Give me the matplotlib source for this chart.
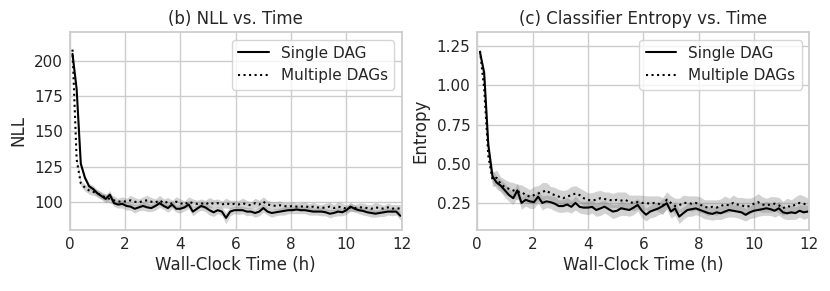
import numpy as np
import seaborn as sns
from matplotlib import pyplot as plt

# time stamps (h), shared by all runs
hours = np.round(0.1 + 0.15 * np.arange(80), 2)

nll_single = [205, 180, 127, 117, 111, 109, 106, 104, 102, 105,
              99, 98, 98.5, 97, 96.5, 95, 96, 97, 96, 95.5,
              97, 99, 97, 95.5, 98, 95, 95, 96, 98, 93,
              95, 97, 96, 94, 92.5, 94, 93, 88.5, 93, 94,
              94, 94, 93, 93, 92, 93, 95.5, 93, 92, 92.5,
              93, 93.5, 94, 94, 94.5, 94, 94, 93.5, 93, 93,
              93, 92.5, 91.5, 92, 93, 92.5, 94, 96.5, 95, 94,
              93.5, 92.5, 92, 91.5, 92, 92.5, 93, 93, 93, 90]
nll_single_err = [1, 2, 2, 2, 2, 2.5, 2.5, 2.5, 3, 3,
                  2.5, 2.5, 3, 3, 2.5, 3, 2.5, 3, 3, 2.5,
                  3, 3, 2.5, 3, 3, 2.5, 3, 2.5, 3, 3,
                  2.5, 3, 3, 3.5, 3, 2.5, 3, 4, 3, 2.5,
                  3, 2.5, 3, 2.5, 3, 3, 3, 2.5, 3, 2.5,
                  2.5, 3, 2.5, 2.5, 3, 2.5, 2.5, 3, 2.5, 2.5,
                  3, 2.5, 3, 2.5, 3, 2.5, 3, 3, 2.5, 2.5,
                  3, 2.5, 3, 2.5, 2.5, 3, 2.5, 3, 2.5, 3]
nll_multi = [208, 130, 113, 110, 108, 107, 106, 104.5, 103, 102,
             101, 100, 100.5, 100, 101, 100, 99.5, 100.5, 101, 100,
             99.5, 101, 99, 100, 98.5, 100, 99, 98, 100, 99,
             98.5, 99, 98, 99.5, 98.5, 99, 98, 99, 98, 98.5,
             98, 99, 98, 97.5, 99, 98, 100, 98, 97.5, 97,
             97.5, 97, 96.5, 97, 96.5, 96.5, 97, 96, 96.5, 96,
             95.5, 96, 96.5, 95.5, 96.5, 96, 95, 96, 95.5, 96,
             96, 95.5, 95, 96, 95.5, 95, 96, 95, 95.5, 95]
nll_multi_err = [1, 2, 2, 2.5, 2.5, 2.5, 2.5, 2.5, 2.5, 3,
                 3, 2.5, 3, 2.5, 3.5, 3, 2.5, 3, 3.5, 3,
                 2.5, 3.5, 3, 3, 2.5, 3.5, 3, 2.5, 3.5, 3,
                 2.5, 3, 3, 3.5, 3, 3, 2.5, 3.5, 3, 2.5,
                 3, 3.5, 3, 2.5, 3.5, 3, 3.5, 3, 2.5, 3,
                 3, 2.5, 3, 3, 2.5, 3, 3, 2.5, 3, 2.5,
                 2.5, 3, 3, 2.5, 3.5, 3, 2.5, 3, 2.5, 3,
                 3, 2.5, 3, 3.5, 3, 2.5, 3, 3, 2.5, 3]

ent_single = [1.21, 1.08, 0.62, 0.42, 0.38, 0.36, 0.33, 0.30, 0.28, 0.33,
              0.25, 0.27, 0.26, 0.255, 0.29, 0.25, 0.26, 0.255, 0.245, 0.23,
              0.23, 0.24, 0.225, 0.25, 0.225, 0.22, 0.22, 0.225, 0.205, 0.215,
              0.226, 0.21, 0.195, 0.20, 0.216, 0.21, 0.205, 0.22, 0.237, 0.20,
              0.175, 0.195, 0.205, 0.215, 0.23, 0.248, 0.195, 0.215, 0.163, 0.185,
              0.205, 0.21, 0.215, 0.205, 0.195, 0.185, 0.18, 0.19, 0.184, 0.195,
              0.205, 0.20, 0.195, 0.19, 0.174, 0.19, 0.20, 0.205, 0.21, 0.216,
              0.21, 0.20, 0.216, 0.19, 0.184, 0.19, 0.185, 0.20, 0.19, 0.195]
ent_single_err = [0.01, 0.02, 0.03, 0.04, 0.04, 0.04, 0.045, 0.04, 0.04, 0.045,
                  0.04, 0.04, 0.045, 0.04, 0.04, 0.045, 0.04, 0.04, 0.045, 0.04,
                  0.04, 0.045, 0.04, 0.045, 0.04, 0.04, 0.045, 0.04, 0.04, 0.045,
                  0.04, 0.04, 0.045, 0.04, 0.045, 0.04, 0.04, 0.045, 0.04, 0.045,
                  0.04, 0.04, 0.045, 0.04, 0.045, 0.04, 0.04, 0.045, 0.045, 0.04,
                  0.04, 0.045, 0.04, 0.04, 0.045, 0.04, 0.04, 0.045, 0.04, 0.04,
                  0.045, 0.04, 0.04, 0.045, 0.04, 0.04, 0.045, 0.04, 0.04, 0.045,
                  0.04, 0.04, 0.045, 0.04, 0.04, 0.045, 0.04, 0.04, 0.045, 0.04]
ent_multi = [1.22, 0.98, 0.55, 0.40, 0.41, 0.37, 0.35, 0.34, 0.33, 0.32,
             0.32, 0.30, 0.29, 0.30, 0.31, 0.32, 0.33, 0.31, 0.30, 0.29,
             0.28, 0.29, 0.30, 0.31, 0.30, 0.28, 0.27, 0.265, 0.27, 0.28,
             0.275, 0.27, 0.265, 0.27, 0.265, 0.27, 0.255, 0.25, 0.255, 0.25,
             0.25, 0.245, 0.25, 0.245, 0.23, 0.27, 0.25, 0.23, 0.235, 0.25,
             0.25, 0.245, 0.25, 0.24, 0.226, 0.22, 0.225, 0.22, 0.23, 0.24,
             0.235, 0.25, 0.24, 0.235, 0.226, 0.23, 0.245, 0.255, 0.24, 0.235,
             0.24, 0.245, 0.235, 0.216, 0.23, 0.225, 0.24, 0.25, 0.245, 0.235]
ent_multi_err = [0.01, 0.02, 0.035, 0.045, 0.05, 0.045, 0.05, 0.045, 0.05, 0.05,
                 0.045, 0.05, 0.045, 0.055, 0.05, 0.06, 0.05, 0.045, 0.05, 0.045,
                 0.05, 0.045, 0.055, 0.05, 0.045, 0.05, 0.045, 0.05, 0.055, 0.05,
                 0.045, 0.05, 0.045, 0.05, 0.055, 0.05, 0.045, 0.05, 0.045, 0.05,
                 0.045, 0.05, 0.045, 0.05, 0.055, 0.05, 0.045, 0.05, 0.045, 0.05,
                 0.045, 0.05, 0.045, 0.05, 0.045, 0.05, 0.045, 0.05, 0.045, 0.055,
                 0.045, 0.05, 0.045, 0.05, 0.055, 0.05, 0.045, 0.055, 0.05, 0.045,
                 0.05, 0.045, 0.05, 0.045, 0.05, 0.045, 0.05, 0.055, 0.05, 0.045]

sns.set_theme(style="whitegrid")
plt.rcParams['font.family'] = ['DejaVu Sans']

fig = plt.figure(figsize=(8.3, 2.91), dpi=100)
ax1 = fig.add_axes([0.084, 0.21, 0.400, 0.68])
ax2 = fig.add_axes([0.575, 0.21, 0.400, 0.68])


def draw(ax, single, single_err, multi, multi_err, title, ylabel):
    single = np.array(single)
    multi = np.array(multi)
    ax.fill_between(hours, multi - np.array(multi_err), multi + np.array(multi_err),
                    color="grey", alpha=0.35, linewidth=0)
    ax.fill_between(hours, single - np.array(single_err), single + np.array(single_err),
                    color="grey", alpha=0.35, linewidth=0)
    ax.plot(hours, single, color="black", linestyle="-", linewidth=1.5, label="Single DAG")
    ax.plot(hours, multi, color="black", linestyle=":", linewidth=1.5, label="Multiple DAGs")
    ax.set_xlim(0, 12)
    ax.set_xticks([0, 2, 4, 6, 8, 10, 12])
    ax.tick_params(labelsize=11, length=0, pad=5)
    ax.set_title(title, fontsize=12)
    ax.set_xlabel("Wall-Clock Time (h)", fontsize=12, labelpad=3)
    ax.set_ylabel(ylabel, fontsize=12, labelpad=5)
    ax.legend(loc="upper right", fontsize=11)


draw(ax1, nll_single, nll_single_err, nll_multi, nll_multi_err, "(b) NLL vs. Time", "NLL")
ax1.set_ylim(80, 220.5)
ax1.set_yticks([100, 125, 150, 175, 200])

draw(ax2, ent_single, ent_single_err, ent_multi, ent_multi_err,
     "(c) Classifier Entropy vs. Time", "Entropy")
ax2.set_ylim(0.078, 1.34)
ax2.set_yticks([0.25, 0.5, 0.75, 1.0, 1.25])
ax2.set_yticklabels(["0.25", "0.50", "0.75", "1.00", "1.25"])

fig.savefig("out.png", dpi=100)
